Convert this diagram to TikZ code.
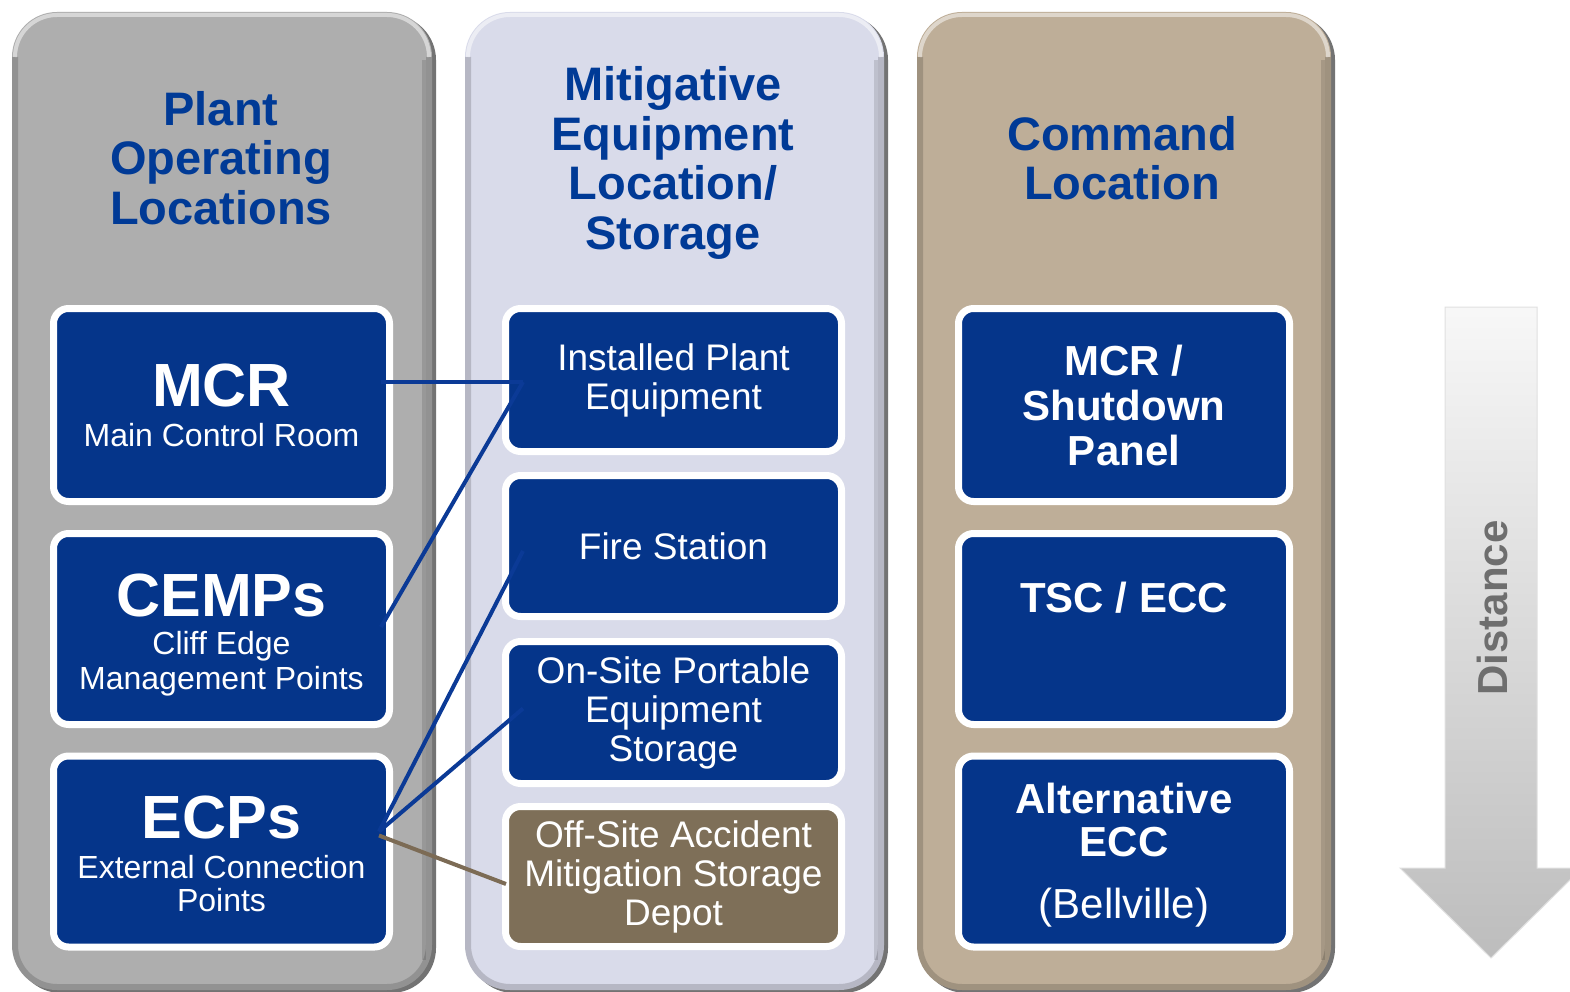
\documentclass[tikz,border=0pt]{standalone}
\usepackage{fontspec}
\setmainfont{Liberation Sans}
\usetikzlibrary{calc}
\definecolor{colgray}{HTML}{AEAEAE}
\definecolor{collav}{HTML}{D9DBEA}
\definecolor{coltan}{HTML}{BEAE98}
\definecolor{boxblue}{HTML}{05358A}
\definecolor{boxbrown}{HTML}{7E6F58}
\definecolor{titleblue}{HTML}{003A96}
\definecolor{lineblue}{HTML}{0B3A96}
\definecolor{linebrown}{HTML}{7C6B55}
\definecolor{distgray}{HTML}{6E6E6E}
\newcommand\mycol[3]{%
  \fill[black,opacity=.55,rounded corners=45] (#1+4,15) rectangle (#2+4,993);
  \fill[#3,rounded corners=45] (#1,12) rectangle (#2,990);
  \draw[black,opacity=.16,line width=6,rounded corners=42] (#1+3,57) -- (#1+3,987) -- (#2-3,987) -- (#2-3,57);
  \draw[black,opacity=.12,line width=4] (#2-8,60) -- (#2-8,960);
  \draw[white,opacity=.5,line width=4,rounded corners=42] (#1+3,57) -- (#1+3,15) -- (#2-3,15) -- (#2-3,57);
}
\tikzset{
  box/.style={rectangle, rounded corners=15pt, draw=white, line width=7pt, text=white,
    align=center, inner sep=0pt, minimum width=#1},
  bluebox/.style={box=#1, fill=boxblue},
  brownbox/.style={box=#1, fill=boxbrown},
  boxtext/.style={text=white, align=center, inner sep=0pt},
  coltitle/.style={text=titleblue, align=center, font=\fontsize{47}{49.5}\selectfont\bfseries},
  conn/.style={line width=4pt, lineblue},
  connb/.style={line width=4pt, linebrown},
}
\newcommand\bigabbr[1]{{\fontsize{61}{64}\selectfont\bfseries #1}}
\begin{document}
\begin{tikzpicture}[x=1pt,y=-1pt]
\useasboundingbox (0,0) rectangle (1570,992);
\clip (0,0) rectangle (1570,992);
\fill[white] (0,0) rectangle (1570,992);
% columns
\mycol{12}{432}{colgray}
\mycol{465}{884}{collav}
\mycol{917}{1331}{coltan}
% titles
\node[coltitle] (t1) at (221,158) {Plant\\Operating\\Locations};
\node[coltitle] (t2) at (673,163) {Mitigative\\Equipment\\Location/\\Storage};
\node[coltitle] (t3) at (1122,158) {Command\\Location};
% column 1
\node[bluebox=336pt, minimum height=193pt, font=\fontsize{32}{35}\selectfont] (mcr) at (221.5,405)
  {\bigabbr{MCR}\\[5pt]Main Control Room};
\node[bluebox=336pt, minimum height=191pt] (cemps) at (221.5,629) {};
\node[boxtext, font=\fontsize{32}{34.5}\selectfont] (cempst) at ($(cemps.center)+(0,6)$)
  {\bigabbr{CEMPs}\\[4pt]Cliff Edge\\Management Points};
\node[bluebox=336pt, minimum height=191pt] (ecps) at (221.5,851.5) {};
\node[boxtext, font=\fontsize{32}{33}\selectfont] (ecpst) at ($(ecps.center)+(0,2)$)
  {\bigabbr{ECPs}\\[7pt]External Connection\\Points};
% column 2
\node[bluebox=336pt, minimum height=143pt, font=\fontsize{37}{39}\selectfont] (inst) at (673.5,380)
  {Installed Plant\\Equipment};
\node[bluebox=336pt, minimum height=141pt, font=\fontsize{37}{39}\selectfont] (fire) at (673.5,546)
  {Fire Station};
\node[bluebox=336pt, minimum height=142pt, font=\fontsize{37}{39}\selectfont] (onsite) at (673.5,712.5)
  {On-Site Portable\\Equipment\\Storage};
\node[brownbox=336pt, minimum height=140pt, font=\fontsize{37}{39}\selectfont] (offsite) at (673.5,876.5)
  {Off-Site Accident\\Mitigation Storage\\Depot};
% column 3
\node[bluebox=331pt, minimum height=193pt, font=\fontsize{42}{45}\selectfont\bfseries] (mcrsd) at (1124,405)
  {MCR /\\Shutdown\\Panel};
\node[bluebox=331pt, minimum height=191pt] (tsc) at (1124,629) {};
\node[boxtext, font=\fontsize{42}{45}\selectfont\bfseries] (tsct) at ($(tsc.center)+(0,-31)$) {TSC / ECC};
\node[bluebox=331pt, minimum height=191pt] (altecc) at (1124,851.5) {};
\node[boxtext, font=\fontsize{42}{43}\selectfont\bfseries] (altt) at ($(altecc.center)+(0,4)$)
  {Alternative\\ECC\\[19pt]\mdseries (Bellville)};
% connectors
\draw[conn] ($(mcr.east)+(-12,-23)$) -- ($(inst.west)+(21,2)$);
\draw[conn] ($(cemps.east)+(-12,-2)$) -- ($(inst.west)+(21,2)$);
\draw[conn] ($(ecps.east)+(-14,-20)$) -- ($(fire.west)+(21,5)$);
\draw[conn] ($(ecps.east)+(-14,-20)$) -- ($(onsite.west)+(21,-4)$);
\draw[connb] ($(ecps.east)+(-14,-16)$) -- ($(offsite.west)+(4,7.5)$);
% distance arrow
\shade[top color=white!97!black, bottom color=black!26, draw=black!12, line width=1pt]
  (1445,307) -- (1537,307) -- (1537,868) -- (1582,868) -- (1491,958) -- (1400,868) -- (1445,868) -- cycle;
\node[rotate=90, text=distgray, font=\fontsize{42}{45}\selectfont\bfseries] (dist) at (1492,608) {Distance};
\end{tikzpicture}
\end{document}
